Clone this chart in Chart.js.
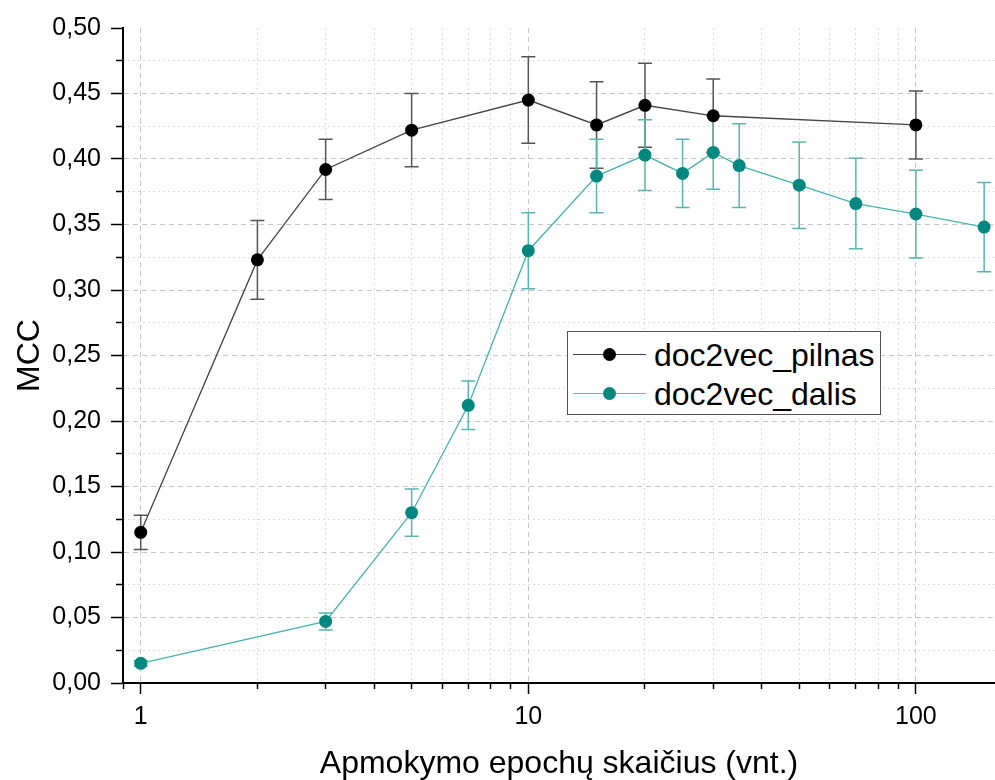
<!DOCTYPE html>
<html>
<head>
<meta charset="utf-8">
<script src="https://cdn.jsdelivr.net/npm/chart.js@4"></script>
<style>
  body { margin: 0; background: #fff; }
  #wrap { position: relative; width: 995px; height: 780px; overflow: hidden; }
  #legend {
    position: absolute; left: 567px; top: 331px; width: 312px; height: 82px;
    border: 1.5px solid #555; background: #fff;
    font-family: "Liberation Sans", Arial, sans-serif; font-size: 32px; color: #000;
  }
  .row { position: absolute; left: 0; height: 36px; width: 100%; }
  .row .ln { position: absolute; left: 5px; top: 17px; width: 73px; height: 0; border-top: 1.3px solid; }
  .row .dot { position: absolute; left: 35px; top: 11px; width: 13px; height: 13px; border-radius: 50%; }
  .row .txt { position: absolute; left: 86px; top: 0; line-height: 36px; }
</style>
</head>
<body>
<div id="wrap">
  <canvas id="chart" width="995" height="780"></canvas>
  <div id="legend">
    <div class="row" style="top:5px"><span class="ln" style="border-color:#444"></span><span class="dot" style="background:#000"></span><span class="txt">doc2vec_pilnas</span></div>
    <div class="row" style="top:44px"><span class="ln" style="border-color:#5cc2bd"></span><span class="dot" style="background:#00877f"></span><span class="txt">doc2vec_dalis</span></div>
  </div>
</div>
<script>
// doc2vec_pilnas
const epochsPilnas = [1, 2, 3, 5, 10, 15, 20, 30, 100];
const mccPilnas    = [0.115, 0.323, 0.392, 0.422, 0.445, 0.426, 0.441, 0.433, 0.426];
const errPilnas    = [0.013, 0.030, 0.023, 0.028, 0.033, 0.033, 0.032, 0.028, 0.026];

// doc2vec_dalis
const epochsDalis = [1, 3, 5, 7, 10, 15, 20, 25, 30, 35, 50, 70, 100, 150];
const mccDalis    = [0.015, 0.047, 0.130, 0.212, 0.330, 0.387, 0.403, 0.389, 0.405, 0.395, 0.380, 0.366, 0.358, 0.348];
const errDalis    = [0.002, 0.0065, 0.018, 0.0185, 0.029, 0.028, 0.027, 0.026, 0.028, 0.032, 0.033, 0.0345, 0.0335, 0.034];

const xMajorTicks = [1, 10, 100];
const xMinorTicks = [0.9, 2, 3, 4, 5, 6, 7, 8, 9, 20, 30, 40, 50, 60, 70, 80, 90];
const yMajorTicks = [0, 0.05, 0.1, 0.15, 0.2, 0.25, 0.3, 0.35, 0.4, 0.45, 0.5];
const yMinorTicks = [0.025, 0.075, 0.125, 0.175, 0.225, 0.275, 0.325, 0.375, 0.425, 0.475];

const FONT = '"Liberation Sans", Arial, sans-serif';
Chart.defaults.font.family = FONT;
Chart.defaults.color = '#000';

function toPoints(xs, ys) {
  return xs.map((v, i) => ({ x: v, y: ys[i] }));
}

// vertical error bars, drawn under the lines and markers
const errorBars = {
  id: 'errorBars',
  beforeDatasetsDraw(chart) {
    const { ctx, scales: { x, y } } = chart;
    chart.data.datasets.forEach(ds => {
      ctx.save();
      ctx.strokeStyle = ds.errorColor;
      ctx.lineWidth = 1.5;
      ds.data.forEach((p, j) => {
        const px = x.getPixelForValue(p.x);
        const top = y.getPixelForValue(p.y + ds.errors[j]);
        const bot = y.getPixelForValue(p.y - ds.errors[j]);
        ctx.beginPath();
        ctx.moveTo(px, top); ctx.lineTo(px, bot);
        ctx.moveTo(px - 7, top); ctx.lineTo(px + 7, top);
        ctx.moveTo(px - 7, bot); ctx.lineTo(px + 7, bot);
        ctx.stroke();
      });
      ctx.restore();
    });
  }
};

const hideEdge = (ctx) => {
  const v = ctx.tick ? ctx.tick.value : null;
  return (v === 0 || v === 0.5) ? 'rgba(0,0,0,0)' : '#c6c6c6';
};

new Chart(document.getElementById('chart'), {
  type: 'scatter',
  data: {
    datasets: [
      {
        label: 'doc2vec_pilnas',
        data: toPoints(epochsPilnas, mccPilnas),
        errors: errPilnas,
        errorColor: '#555',
        showLine: true,
        borderColor: '#444',
        borderWidth: 1.3,
        pointRadius: 6.5,
        pointBorderWidth: 0,
        pointBackgroundColor: '#000',
        clip: false
      },
      {
        label: 'doc2vec_dalis',
        data: toPoints(epochsDalis, mccDalis),
        errors: errDalis,
        errorColor: '#5ab4b0',
        showLine: true,
        borderColor: '#45b3ae',
        borderWidth: 1.3,
        pointRadius: 6.5,
        pointBorderWidth: 0,
        pointBackgroundColor: '#00877f',
        clip: false
      }
    ]
  },
  options: {
    responsive: false,
    animation: false,
    layout: { autoPadding: false, padding: { top: 28, right: 0, left: 0, bottom: 0 } },
    plugins: { legend: { display: false }, tooltip: { enabled: false } },
    scales: {
      x: {
        type: 'logarithmic',
        position: 'bottom',
        min: 0.9,
        max: 160,
        afterBuildTicks: s => { s.ticks = xMajorTicks.map(v => ({ value: v, major: true })); },
        afterFit: s => { s.height = 97; },
        ticks: { font: { size: 25 }, color: '#000', padding: 8, autoSkip: false, maxRotation: 0, callback: v => String(v) },
        grid: { color: '#c6c6c6', lineWidth: 1, tickColor: '#000', tickLength: 11, tickWidth: 1.5 },
        border: { color: '#000', width: 2, dash: [5, 4] },
        title: { display: true, text: 'Apmokymo epochų skaičius (vnt.)', color: '#000', font: { size: 32, lineHeight: 0.9 }, padding: { top: 0, bottom: 1 } }
      },
      xMinor: {
        axis: 'x',
        type: 'logarithmic',
        position: { y: 0 },
        min: 0.9,
        max: 160,
        afterBuildTicks: s => { s.ticks = xMinorTicks.map(v => ({ value: v })); },
        ticks: { display: false },
        grid: {
          color: ctx => (ctx.tick && ctx.tick.value < 1) ? 'rgba(0,0,0,0)' : '#dcdcdc',
          lineWidth: 1, tickColor: '#000', tickLength: 6, tickWidth: 1.5
        },
        border: { display: false, dash: [2, 3] }
      },
      y: {
        min: 0,
        max: 0.5,
        afterBuildTicks: s => { s.ticks = yMajorTicks.map(v => ({ value: v })); },
        afterFit: s => { s.width = 123; },
        ticks: { font: { size: 25 }, color: '#000', padding: 10, callback: v => Number(v).toFixed(2).replace('.', ',') },
        grid: { color: hideEdge, lineWidth: 1, tickColor: '#000', tickLength: 12, tickWidth: 1.5 },
        border: { color: '#000', width: 2, dash: [5, 4] },
        title: { display: true, text: 'MCC', color: '#000', font: { size: 32 }, padding: { top: 11, bottom: 0 } }
      },
      yMinor: {
        axis: 'y',
        position: { x: 0.9 },
        min: 0,
        max: 0.5,
        afterBuildTicks: s => { s.ticks = yMinorTicks.map(v => ({ value: v })); },
        ticks: { display: false },
        grid: { color: '#dcdcdc', lineWidth: 1, tickColor: '#000', tickLength: 7, tickWidth: 1.5 },
        border: { display: false, dash: [2, 3] }
      }
    }
  },
  plugins: [errorBars]
});
</script>
</body>
</html>
